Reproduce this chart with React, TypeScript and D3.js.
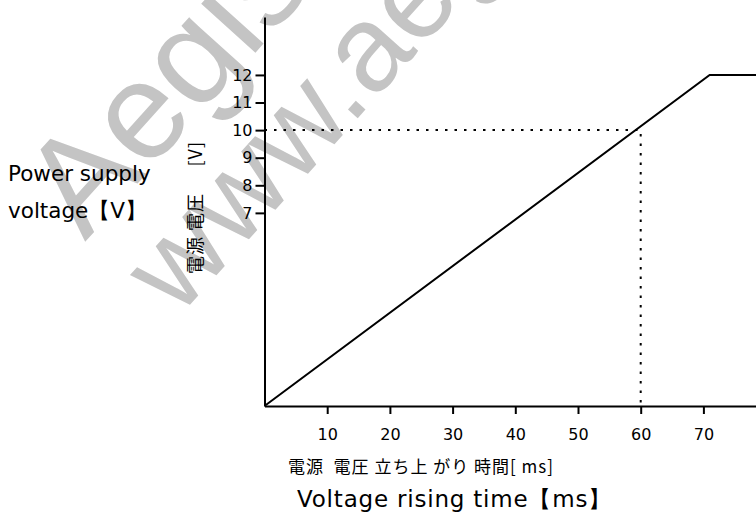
import React, { useEffect, useRef } from "react";
import * as d3 from "d3";

const timeMs = [0, 71, 80];
const volts = [0, 12, 12];
const xTicks = [10, 20, 30, 40, 50, 60, 70];
const yTicks = [7, 8, 9, 10, 11, 12];
const markTime = 60;
const markVolt = 10;

const W = 756;
const H = 524;
const LATIN = "'DejaVu Sans', sans-serif";
const CJK = "'Noto Sans CJK JP', sans-serif";

export default function App() {
  const ref = useRef<SVGSVGElement>(null);

  useEffect(() => {
    const svg = d3.select(ref.current);
    svg.selectAll("*").remove();

    const x = d3.scaleLinear().domain([0, 80]).range([264.5, 766.1]);
    const y = d3.scaleLinear().domain([0, 14.1]).range([406, 17]);

    svg.append("rect").attr("width", W).attr("height", H).attr("fill", "#fff");

    // watermark
    const wm = svg.append("g").attr("fill", "#c4c4c4").attr("font-family", "'Liberation Sans', Arial, sans-serif");
    wm.append("text").attr("transform", "translate(85,242) rotate(-48)").attr("font-size", 138).text("Aegis");
    wm.append("text").attr("transform", "translate(178,318) rotate(-48)").attr("font-size", 122).text("www.aegis-elec.com");

    // axes
    const xAxis = d3.axisBottom(x).tickValues(xTicks).tickSize(8).tickSizeOuter(0).tickPadding(15).tickFormat(d3.format("d"));
    const gx = svg.append("g").attr("transform", `translate(0,${y(0)})`).call(xAxis);
    const yAxis = d3.axisLeft(y).tickValues(yTicks).tickSize(9).tickSizeOuter(0).tickPadding(3).tickFormat(d3.format("d"));
    const gy = svg.append("g").attr("transform", `translate(${x(0)},0)`).call(yAxis);
    [gx, gy].forEach((g) => {
      g.select(".domain").attr("stroke", "#000").attr("stroke-width", 2);
      g.selectAll(".tick line").attr("stroke", "#000").attr("stroke-width", 2);
      g.selectAll(".tick text").attr("fill", "#000").attr("font-family", LATIN).attr("font-size", 16);
    });

    // dotted guide
    svg.append("path")
      .attr("d", `M${x(0)},${y(markVolt)}H${x(markTime)}V${y(0)}`)
      .attr("fill", "none").attr("stroke", "#000").attr("stroke-width", 2).attr("stroke-dasharray", "2.5,7");

    // curve
    const pts = timeMs.map((t, i) => [t, volts[i]] as [number, number]);
    const line = d3.line<[number, number]>().x((d) => x(d[0])).y((d) => y(d[1]));
    svg.append("path").attr("d", line(pts)!).attr("fill", "none").attr("stroke", "#000").attr("stroke-width", 2);

    // Japanese axis labels
    svg.append("text").attr("x", 288).attr("y", 473).attr("font-family", CJK).attr("font-size", 17)
      .attr("letter-spacing", 1).attr("fill", "#000").style("white-space", "pre").text("電源  電圧 立ち上 がり 時間[ ms]");
    svg.append("text").attr("transform", "translate(202,274) rotate(-90)").attr("font-family", CJK).attr("font-size", 18)
      .attr("letter-spacing", 1).attr("fill", "#000").style("white-space", "pre").text("電源 電圧");
    svg.append("text").attr("transform", "translate(202,141) rotate(-90)").attr("text-anchor", "end").attr("font-family", CJK).attr("font-size", 18)
      .attr("letter-spacing", 1).attr("fill", "#000").text("[V]");

    // English labels
    const eng = svg.append("g").attr("font-family", LATIN).attr("fill", "#000");
    eng.append("text").attr("x", 8).attr("y", 181).attr("font-size", 21.5).text("Power supply");
    eng.append("text").attr("x", 8).attr("y", 218).attr("font-size", 21.5).text("voltage【V】");
    eng.append("text").attr("x", 297).attr("y", 507).attr("font-size", 23).attr("letter-spacing", 0.8).text("Voltage rising time【ms】");
  }, []);

  return (
    <svg
      ref={ref}
      width={W}
      height={H}
      style={{ position: "absolute", left: 0, top: 0, display: "block" }}
    />
  );
}
